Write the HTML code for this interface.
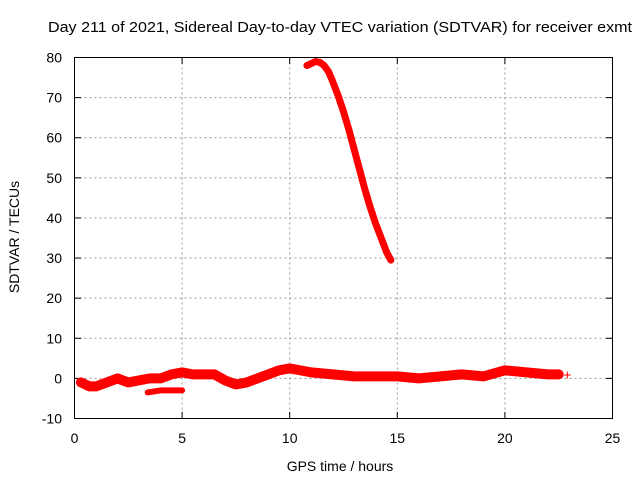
<!DOCTYPE html>
<html><head><meta charset="utf-8"><style>
body{margin:0;background:#fff;}
svg{display:block;font-family:"Liberation Sans",sans-serif;}
</style></head><body>
<svg id="chart" width="640" height="480">
<text x="48" y="32" font-size="15" textLength="584" lengthAdjust="spacingAndGlyphs">Day 211 of 2021, Sidereal Day-to-day VTEC variation (SDTVAR) for receiver exmt</text>
<text x="340" y="471" font-size="14" text-anchor="middle">GPS time / hours</text>
<text transform="translate(19,237) rotate(-90)" font-size="14" text-anchor="middle">SDTVAR / TECUs</text>
<g id="grid"></g><g id="ticks"></g><g id="series"></g>
<rect x="74.5" y="57.5" width="538" height="361" fill="none" stroke="#000"/>
</svg>
<script>
const xTicks=[0,5,10,15,20,25];
const yTicks=[-10,0,10,20,30,40,50,60,70,80];
const bandHours=[0.3,0.7,1,1.5,2,2.5,3,3.5,4,4.5,5,5.5,6,6.5,7,7.5,8,8.5,9,9.5,10,10.5,11,12,13,14,15,16,17,18,19,20,21,22,22.5];
const bandValues=[-1,-2,-2,-1,0,-1,-0.5,0,0,1,1.5,1,1,1,-0.5,-1.5,-1,0,1,2,2.5,2,1.5,1,0.5,0.5,0.5,0,0.5,1,0.5,2,1.5,1,1];
const lowHours=[3.4,4,4.5,5];
const lowValues=[-3.5,-3,-3,-3];
const peakHours=[10.8,11.0,11.2,11.4,11.6,11.8,12,12.25,12.5,12.75,13,13.25,13.5,13.75,14,14.25,14.5,14.7];
const peakValues=[78,78.5,79,78.8,78,76.5,74,70.5,66.5,62,57,52,47,42.5,38.5,35,31.5,29.5];
const lastHours=[22.9];
const lastValues=[1];
const X=h=>74.5+h*538/25, Y=v=>418.5-(v+10)*361/90;
const NS="http://www.w3.org/2000/svg";
function mk(t,a,p){const e=document.createElementNS(NS,t);for(const k in a)e.setAttribute(k,a[k]);p.appendChild(e);return e;}
const g=document.getElementById('grid'),tk=document.getElementById('ticks'),s=document.getElementById('series');
xTicks.forEach(t=>{const x=X(t);
 if(t>0&&t<25){const l=mk('line',{x1:x,x2:x,y1:57.5,y2:418.5,stroke:'#999','stroke-dasharray':'2,3'},g);
 
 }
 const tx=mk('text',{x:x,y:443,'font-size':14,'text-anchor':'middle'},tk);tx.textContent=t;
 
 
 mk('line',{x1:x,x2:x,y1:418.5,y2:412,stroke:'#000'},tk);mk('line',{x1:x,x2:x,y1:57.5,y2:64,stroke:'#000'},tk);});
yTicks.forEach(t=>{const y=Y(t);
 if(t>-10&&t<80){const l=mk('line',{x1:74.5,x2:612.5,y1:y,y2:y,stroke:'#999','stroke-dasharray':'2,3'},g);
 
 }
 const tx=mk('text',{x:62,y:y+5,'font-size':14,'text-anchor':'end'},tk);tx.textContent=t;
 
 
 mk('line',{x1:74.5,x2:81,y1:y,y2:y,stroke:'#000'},tk);mk('line',{x1:612.5,x2:606,y1:y,y2:y,stroke:'#000'},tk);});
function line(hs,vs,w,name){const p=mk('polyline',{points:hs.map((h,i)=>X(h)+','+Y(vs[i])).join(' '),fill:'none',stroke:'#f00','stroke-width':w,'stroke-linejoin':'round','stroke-linecap':'round'},s);
 
 }
line(bandHours,bandValues,10,'sdtvar-band');
line(lowHours,lowValues,6,'sdtvar-low-band');
line(peakHours,peakValues,7,'sdtvar-peak');
lastHours.forEach((h,i)=>{const t=mk('text',{x:X(h),y:Y(lastValues[i])+5,'font-size':14,fill:'#f00','text-anchor':'middle'},s);t.textContent='+';
 
 });
</script>
</body></html>
